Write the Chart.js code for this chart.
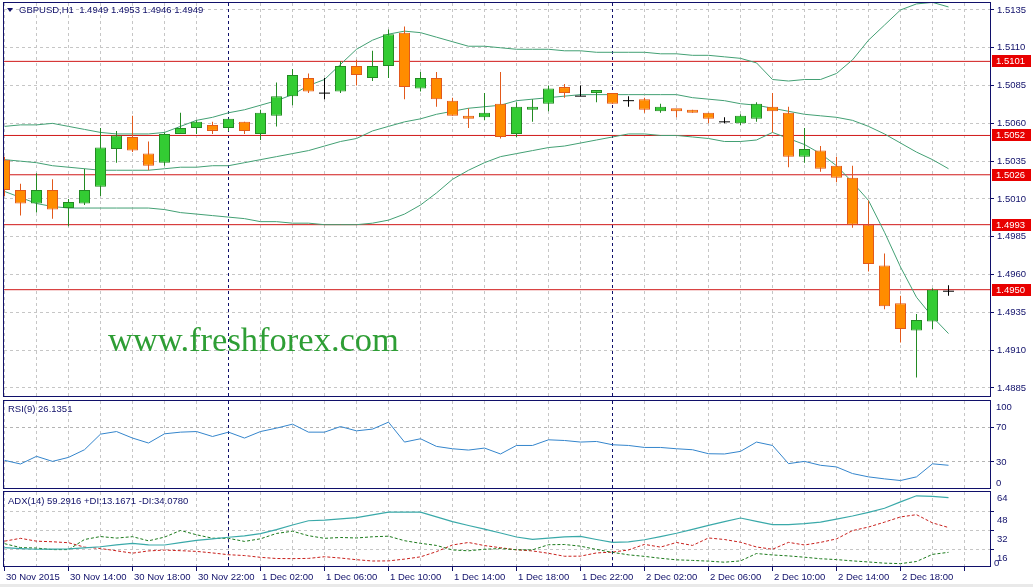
<!DOCTYPE html>
<html><head><meta charset="utf-8">
<script src="https://cdn.jsdelivr.net/npm/chart.js@4.4.0/dist/chart.umd.min.js"></script>
<style>
html,body{margin:0;padding:0;background:#fff;width:1033px;height:587px;overflow:hidden;}
canvas{position:absolute;left:0;}
.lbl{position:absolute;font-family:"Liberation Sans",Arial,sans-serif;font-size:9.5px;color:#10106a;white-space:pre;line-height:10px;}
</style></head><body>
<div style="position:absolute;left:0;top:584px;width:1033px;height:3px;background:#e9e9e9"></div>
<canvas id="main" width="1033" height="399" style="top:0"></canvas>
<canvas id="rsiC" width="1033" height="93" style="top:397px"></canvas>
<canvas id="adxC" width="1033" height="98" style="top:489px"></canvas>
<div style="position:absolute;left:7px;top:8px;width:0;height:0;border-left:3.5px solid transparent;border-right:3.5px solid transparent;border-top:4px solid #10106a"></div>
<div class="lbl" style="left:19px;top:5px">GBPUSD,H1  1.4949 1.4953 1.4946 1.4949</div>
<div class="lbl" style="left:8px;top:404px">RSI(9) 26.1351</div>
<div class="lbl" style="left:8px;top:496px">ADX(14) 59.2916 +DI:13.1671 -DI:34.0780</div>
<div style="position:absolute;left:108px;top:322px;font-family:'Liberation Serif','Times New Roman',serif;font-size:34.5px;line-height:34px;color:#2e9e35;white-space:pre">www.freshforex.com</div>
<script>
// ---------- data ----------
const tickLabels = ['30 Nov 2015','30 Nov 14:00','30 Nov 18:00','30 Nov 22:00','1 Dec 02:00','1 Dec 06:00','1 Dec 10:00','1 Dec 14:00','1 Dec 18:00','1 Dec 22:00','2 Dec 02:00','2 Dec 06:00','2 Dec 10:00','2 Dec 14:00','2 Dec 18:00'];
const barsPerLabel = 4;
const daySeparators = [14, 38];
const priceTicks = [1.4885,1.4910,1.4935,1.4960,1.4985,1.5010,1.5035,1.5060,1.5085,1.5110,1.5135];
const levels = [1.5101,1.5052,1.5026,1.4993,1.4950];
const open  = [1.5036,1.5016,1.5007,1.5016,1.5004,1.5007,1.5018,1.5043,1.5051,1.5040,1.5034,1.5053,1.5057,1.5059,1.5057,1.5061,1.5053,1.5065,1.5078,1.5090,1.5080,1.5081,1.5098,1.5090,1.5098,1.5120,1.5083,1.5090,1.5075,1.5064,1.5064,1.5073,1.5053,1.5069,1.5073,1.5084,1.5078,1.5080,1.5080,1.5075,1.5076,1.5068,1.5069,1.5068,1.5067,1.5061,1.5060,1.5063,1.5071,1.5067,1.5038,1.5042,1.5032,1.5024,1.4993,1.4966,1.4941,1.4923,1.4929,1.4949];
const high  = [1.5038,1.5020,1.5027,1.5023,1.5010,1.5030,1.5057,1.5055,1.5065,1.5048,1.5054,1.5067,1.5062,1.5061,1.5063,1.5061,1.5069,1.5087,1.5096,1.5093,1.5090,1.5101,1.5102,1.5108,1.5122,1.5124,1.5094,1.5094,1.5077,1.5070,1.5080,1.5094,1.5074,1.5076,1.5085,1.5086,1.5085,1.5082,1.5080,1.5078,1.5077,1.5073,1.5069,1.5069,1.5067,1.5064,1.5066,1.5074,1.5080,1.5071,1.5057,1.5045,1.5038,1.5032,1.5009,1.4974,1.4946,1.4934,1.4951,1.4953];
const low   = [1.5012,1.4999,1.5001,1.4997,1.4992,1.5006,1.5012,1.5034,1.5041,1.5029,1.5032,1.5053,1.5053,1.5053,1.5055,1.5053,1.5049,1.5058,1.5072,1.5080,1.5076,1.5080,1.5085,1.5088,1.5090,1.5076,1.5081,1.5071,1.5065,1.5057,1.5062,1.5050,1.5051,1.5061,1.5068,1.5077,1.5078,1.5074,1.5073,1.5071,1.5067,1.5067,1.5064,1.5067,1.5060,1.5060,1.5059,1.5061,1.5054,1.5031,1.5034,1.5028,1.5021,1.4991,1.4962,1.4937,1.4915,1.4892,1.4924,1.4946];
const close = [1.5016,1.5007,1.5016,1.5003,1.5008,1.5016,1.5044,1.5052,1.5042,1.5032,1.5053,1.5057,1.5061,1.5055,1.5063,1.5055,1.5067,1.5078,1.5092,1.5081,1.5080,1.5098,1.5092,1.5098,1.5119,1.5084,1.5090,1.5076,1.5065,1.5063,1.5067,1.5051,1.5071,1.5071,1.5083,1.5080,1.5078,1.5081,1.5073,1.5075,1.5069,1.5071,1.5068,1.5067,1.5063,1.5061,1.5065,1.5073,1.5068,1.5038,1.5043,1.5030,1.5024,1.4993,1.4967,1.4939,1.4924,1.4930,1.4950,1.4949];
const bbUpper  = [1.5058,1.5059,1.5059,1.5060,1.5058,1.5056,1.5054,1.5053,1.5053,1.5053,1.5054,1.5058,1.5062,1.5064,1.5067,1.5069,1.5072,1.5075,1.5079,1.5085,1.5089,1.5099,1.5109,1.5115,1.5119,1.5121,1.5120,1.5117,1.5114,1.5111,1.5111,1.5110,1.5109,1.5109,1.5109,1.5108,1.5108,1.5107,1.5107,1.5107,1.5107,1.5106,1.5106,1.5105,1.5105,1.5104,1.5103,1.5100,1.5089,1.5088,1.5089,1.5089,1.5093,1.5102,1.5115,1.5125,1.5135,1.5139,1.5140,1.5137];
const bbMiddle = [1.5036,1.5035,1.5034,1.5032,1.5031,1.5030,1.5029,1.5029,1.5029,1.5029,1.5030,1.5031,1.5031,1.5032,1.5032,1.5034,1.5036,1.5038,1.5040,1.5042,1.5045,1.5048,1.5050,1.5055,1.5058,1.5061,1.5063,1.5066,1.5068,1.5070,1.5071,1.5072,1.5075,1.5076,1.5077,1.5078,1.5079,1.5079,1.5079,1.5079,1.5079,1.5079,1.5079,1.5077,1.5076,1.5075,1.5073,1.5072,1.5070,1.5068,1.5066,1.5065,1.5064,1.5062,1.5058,1.5053,1.5047,1.5041,1.5036,1.5030];
const bbLower  = [1.5015,1.5011,1.5007,1.5005,1.5004,1.5004,1.5004,1.5004,1.5004,1.5004,1.5003,1.5001,1.5000,1.4999,1.4998,1.4997,1.4995,1.4995,1.4994,1.4994,1.4993,1.4993,1.4993,1.4994,1.4996,1.5000,1.5006,1.5014,1.5023,1.5029,1.5034,1.5038,1.5040,1.5042,1.5044,1.5045,1.5047,1.5049,1.5051,1.5053,1.5053,1.5052,1.5052,1.5051,1.5050,1.5048,1.5048,1.5049,1.5054,1.5050,1.5046,1.5040,1.5032,1.5021,1.5009,1.4988,1.4965,1.4945,1.4932,1.4921];
const rsi = [31.8,27.6,36.4,30.6,35.2,44.0,61.9,64.9,57.4,51.7,62.3,64.2,64.9,59.2,64.2,57.4,64.9,68.8,73.4,64.2,64.2,70.6,65.7,67.7,75.7,52.8,56.6,47.8,45.1,43.6,45.9,39.1,48.9,48.9,55.4,54.6,52.8,53.5,49.7,48.9,46.6,46.6,45.1,44.0,39.4,39.1,42.1,52.8,48.9,28.0,30.6,26.1,24.2,16.6,12.8,10.5,8.6,12.8,27.8,26.1];
const rsiTicks = [100,70,30,0];
const rsiLevels = [70,30];
const adx = [17.1,16.4,15.8,15.9,16.1,16.9,17.9,19.5,20.8,19.5,19.4,21.3,23.2,24.6,25.9,27.1,29.0,32.3,36.2,39.8,40.4,41.3,42.4,44.8,47.1,47.1,47.1,43.0,39.0,35.8,32.8,29.5,26.1,24.2,25.2,26.3,26.6,24.0,21.6,22.0,23.8,26.4,29.3,32.6,35.9,39.0,42.1,39.2,36.6,36.6,37.4,38.7,41.2,43.8,46.9,50.3,55.7,60.8,60.3,59.3];
const plusDI = [20.5,17.2,16.8,15.5,15.5,24.0,26.5,25.2,26.4,22.9,26.0,31.6,28.0,25.1,25.0,22.4,24.6,29.1,31.0,27.2,25.0,25.7,25.3,26.3,26.8,23.0,20.8,19.0,15.2,14.5,15.8,16.4,15.4,15.3,19.6,19.8,18.4,15.6,13.2,11.1,9.8,8.2,6.9,6.4,5.8,4.9,6.0,12.2,11.0,10.2,9.1,7.8,7.1,6.0,5.1,4.1,3.7,5.5,11.5,13.2];
const minusDI = [22.6,25.0,22.6,22.1,21.3,17.6,16.4,14.5,12.5,14.4,15.1,14.6,14.0,12.7,11.2,10.5,9.0,8.0,7.9,8.1,9.5,8.4,7.0,5.9,6.0,7.5,9.4,13.8,19.4,21.5,18.9,17.1,15.3,14.4,12.4,9.9,10.0,12.7,13.4,15.2,19.9,17.6,21.5,19.0,25.3,24.0,21.7,17.7,15.8,21.6,19.4,21.6,24.5,31.5,34.5,38.6,43.0,44.9,38.0,34.1];
const adxTicks = [64,48,32,16];

// ---------- styles ----------
const NAVY = '#10106a', GRID = '#c6c6c6', FONT = '"Liberation Sans", Arial, sans-serif';
const UP_FILL = '#33cc33', UP_LINE = '#238a23', DN_FILL = '#ff8c00', DN_LINE = '#e2591b';
const X_MIN = -0.03125, X_MAX = 61.59375;
const PRICE_MIN = 1.48797, PRICE_MAX = 1.51396;
const ADX_MIN = 1.7, ADX_MAX = 64;
const nBars = close.length;
const xGrid = []; for (let i = 0; i <= nBars; i += 2) xGrid.push(i);

function noPad(s) { s.paddingTop = 0; s.paddingBottom = 0; s.paddingLeft = 0; s.paddingRight = 0; }
function xScale(showLabels) {
  return {
    type: 'linear', min: X_MIN, max: X_MAX, offset: false,
    afterBuildTicks: s => { s.ticks = xGrid.map(v => ({ value: v })); },
    afterFit: s => { s.height = showLabels ? 21 : 0; noPad(s); },
    border: { display: false, dash: [3, 3] },
    grid: { offset: false, color: GRID, lineWidth: 1, drawTicks: showLabels, tickLength: 5, tickBorderDash: [],
      tickColor: c => (c.tick && c.tick.value % barsPerLabel === 0) ? NAVY : 'rgba(0,0,0,0)' },
    ticks: { display: showLabels, autoSkip: false, maxRotation: 0, minRotation: 0, align: 'start', labelOffset: 1.5, padding: 1,
      color: NAVY, font: { family: FONT, size: 9.5 },
      callback: v => (v % barsPerLabel === 0 && v / barsPerLabel < tickLabels.length) ? tickLabels[v / barsPerLabel] : '' }
  };
}
const framePlugin = { id: 'frame', afterDraw(chart) {
  const { ctx, chartArea: a } = chart;
  ctx.save(); ctx.strokeStyle = NAVY; ctx.lineWidth = 1;
  ctx.strokeRect(a.left - 0.5, a.top - 0.5, a.right - a.left + 1, a.bottom - a.top + 1);
  ctx.restore();
}};
function sepDatasets(yMin, yMax) {
  return daySeparators.map(s => ({ type: 'line', data: [{ x: s, y: yMin }, { x: s, y: yMax }], borderColor: NAVY, borderWidth: 1,
    borderDash: [3, 3], pointRadius: 0, order: 20 }));
}
const baseOpts = { responsive: false, animation: false, devicePixelRatio: 1, events: [],
  plugins: { legend: { display: false }, tooltip: { enabled: false } } };

// ---------- main chart ----------
const kind = close.map((c, i) => c > open[i] ? 'up' : (c < open[i] ? 'dn' : 'doji'));
const bodyIdx = kind.map((k, i) => i).filter(i => kind[i] !== 'doji');
const dojiIdx = kind.map((k, i) => i).filter(i => kind[i] === 'doji');
const wickColor = kind.map(k => k === 'up' ? UP_LINE : (k === 'dn' ? DN_LINE : '#000'));

new Chart(document.getElementById('main'), {
  type: 'line',
  data: { datasets: [
    ...sepDatasets(PRICE_MIN, PRICE_MAX),
    ...levels.map(L => ({ type: 'line', data: [{ x: X_MIN, y: L }, { x: X_MAX, y: L }], borderColor: '#d01818', borderWidth: 1, pointRadius: 0, order: 15 })),
    ...[bbUpper, bbMiddle, bbLower].map(arr => ({ type: 'line', data: arr.map((v, i) => ({ x: i, y: v })), borderColor: '#43a074', borderWidth: 1, pointRadius: 0, tension: 0, order: 10 })),
    { type: 'bar', grouped: false, barThickness: 1, inflateAmount: 0, order: 5,
      data: low.map((l, i) => ({ x: i, y: [l, high[i]] })), backgroundColor: wickColor, borderWidth: 0 },
    { type: 'bar', grouped: false, barThickness: 11, inflateAmount: 0, minBarLength: 3, order: 3, borderSkipped: false, borderWidth: 1,
      data: bodyIdx.map(i => ({ x: i, y: [open[i], close[i]] })),
      backgroundColor: bodyIdx.map(i => kind[i] === 'up' ? UP_FILL : DN_FILL),
      borderColor: bodyIdx.map(i => kind[i] === 'up' ? UP_LINE : DN_LINE) },
    { type: 'scatter', showLine: false, order: 1, data: dojiIdx.map(i => ({ x: i, y: close[i] })),
      pointStyle: 'line', pointRadius: 5.5, borderColor: '#000', borderWidth: 1, backgroundColor: '#000' }
  ]},
  options: { ...baseOpts,
    layout: { autoPadding: false, padding: { left: 4, top: 3, right: 0, bottom: 3 } },
    scales: {
      x: xScale(false),
      y: { type: 'linear', position: 'right', min: PRICE_MIN, max: PRICE_MAX,
        afterBuildTicks: s => { s.ticks = priceTicks.map(v => ({ value: v })); },
        afterFit: s => { s.width = 43; noPad(s); },
        border: { display: false, dash: [3, 3] },
        grid: { color: GRID, tickColor: NAVY, tickLength: 4, tickBorderDash: [] },
        ticks: { color: NAVY, padding: 3, font: { family: FONT, size: 9.5 }, callback: v => v.toFixed(4) } }
    }
  },
  plugins: [framePlugin, { id: 'tags', afterDraw(chart) {
    const ctx = chart.ctx, ys = chart.scales.y, a = chart.chartArea;
    ctx.save(); ctx.font = '9.5px ' + FONT; ctx.textBaseline = 'middle'; ctx.textAlign = 'left';
    levels.forEach(L => {
      const y = Math.round(ys.getPixelForValue(L));
      ctx.fillStyle = '#e80000'; ctx.fillRect(a.right + 2, y - 6, 39, 12);
      ctx.fillStyle = '#fff'; ctx.fillText(L.toFixed(4), a.right + 6, y + 0.5);
    });
    ctx.restore();
  }}]
});

// ---------- RSI ----------
new Chart(document.getElementById('rsiC'), {
  type: 'line',
  data: { datasets: [
    ...sepDatasets(0, 100),
    { type: 'line', data: rsi.map((v, i) => ({ x: i, y: v })), borderColor: '#3485cc', borderWidth: 1, pointRadius: 0, tension: 0, order: 1 }
  ]},
  options: { ...baseOpts,
    layout: { autoPadding: false, padding: { left: 4, top: 4, right: 0, bottom: 2 } },
    scales: {
      x: xScale(false),
      y: { type: 'linear', position: 'right', min: 0, max: 100,
        afterBuildTicks: s => { s.ticks = rsiTicks.map(v => ({ value: v })); },
        afterFit: s => { s.width = 43; noPad(s); },
        border: { display: false, dash: [3, 3] },
        grid: { color: c => (c.tick && rsiLevels.includes(c.tick.value)) ? '#b4b4b4' : 'rgba(0,0,0,0)',
          tickColor: c => (c.tick && rsiLevels.includes(c.tick.value)) ? NAVY : 'rgba(0,0,0,0)', tickLength: 4, tickBorderDash: [] },
        ticks: { display: false } }
    }
  },
  plugins: [framePlugin, { id: 'rsiLabels', afterDraw(chart) {
    const ctx = chart.ctx, ys = chart.scales.y, a = chart.chartArea;
    ctx.save(); ctx.font = '9.5px ' + FONT; ctx.fillStyle = NAVY; ctx.textBaseline = 'middle'; ctx.textAlign = 'left';
    rsiTicks.forEach(v => {
      const y = Math.max(a.top + 6, Math.min(a.bottom - 5, ys.getPixelForValue(v)));
      ctx.fillText(String(v), a.right + 6, y);
    });
    ctx.restore();
  }}]
});

// ---------- ADX ----------
new Chart(document.getElementById('adxC'), {
  type: 'line',
  data: { datasets: [
    ...sepDatasets(ADX_MIN, ADX_MAX),
    { type: 'line', data: minusDI.map((v, i) => ({ x: i, y: v })), borderColor: '#c8201c', borderWidth: 1, borderDash: [3, 2], pointRadius: 0, order: 3 },
    { type: 'line', data: plusDI.map((v, i) => ({ x: i, y: v })), borderColor: '#1c7a1c', borderWidth: 1, borderDash: [3, 2], pointRadius: 0, order: 2 },
    { type: 'line', data: adx.map((v, i) => ({ x: i, y: v })), borderColor: '#3aa9a9', borderWidth: 1.2, pointRadius: 0, order: 1 }
  ]},
  options: { ...baseOpts,
    layout: { autoPadding: false, padding: { left: 4, top: 3, right: 0, bottom: 0 } },
    scales: {
      x: xScale(true),
      y: { type: 'linear', position: 'right', min: ADX_MIN, max: ADX_MAX,
        afterBuildTicks: s => { s.ticks = adxTicks.map(v => ({ value: v })); },
        afterFit: s => { s.width = 43; noPad(s); },
        border: { display: false, dash: [3, 3] },
        grid: { color: c => (c.tick && c.tick.value < ADX_MAX) ? GRID : 'rgba(0,0,0,0)',
          tickColor: c => (c.tick && c.tick.value < ADX_MAX) ? NAVY : 'rgba(0,0,0,0)', tickLength: 4, tickBorderDash: [] },
        ticks: { display: false } }
    }
  },
  plugins: [framePlugin, { id: 'adxLabels', afterDraw(chart) {
    const ctx = chart.ctx, ys = chart.scales.y, a = chart.chartArea;
    ctx.save(); ctx.font = '9.5px ' + FONT; ctx.fillStyle = NAVY; ctx.textBaseline = 'middle'; ctx.textAlign = 'left';
    adxTicks.forEach(v => {
      const y = v === ADX_MAX ? a.top + 6 : ys.getPixelForValue(v) + 9;
      ctx.fillText(String(v), a.right + 7, y);
    });
    ctx.fillText('0', a.right + 4, a.bottom - 3);
    ctx.restore();
  }}]
});
</script>
</body></html>
